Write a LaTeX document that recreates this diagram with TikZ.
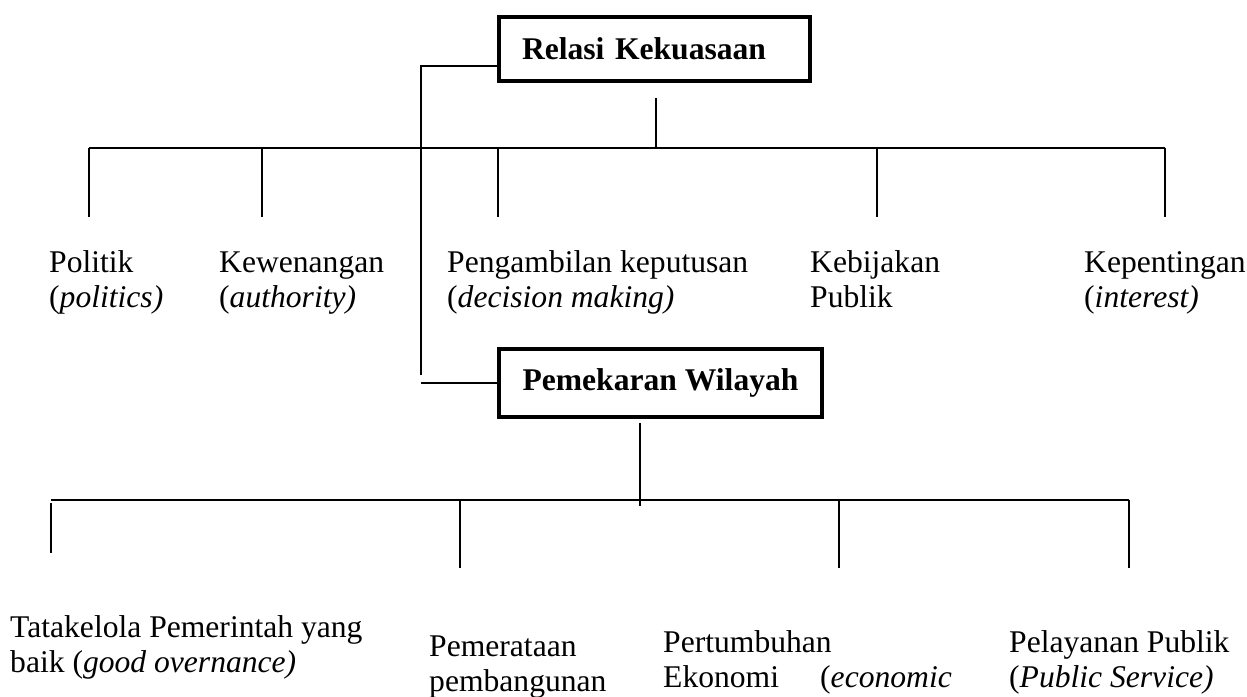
\documentclass[tikz,border=0pt]{standalone}
\usepackage{fontspec}
\setmainfont{Liberation Serif}
\begin{document}
\begin{tikzpicture}[x=1pt,y=-1pt,
  lbl/.style={anchor=base west, inner sep=0pt, align=left, font=\fontsize{31.6}{35}\selectfont},
  boxnode/.style={draw, line width=4pt, font=\fontsize{31.6}{35}\selectfont\bfseries, inner sep=0pt},
  ln/.style={line width=1.5pt},
  thickln/.style={line width=2.6pt}]
\useasboundingbox (0,0) rectangle (1247,696);
\clip (0,0) rectangle (1247,696);

% boxes
\node[boxnode, minimum width=311pt, minimum height=64pt, text width=265pt, align=left] (rk) at (654.5,49) {Relasi Kekuasaan};
\node[boxnode, minimum width=323pt, minimum height=68pt] (pw) at (660.5,383) {Pemekaran Wilayah};

% first row labels (anchored at the baseline of the last line)
\node[lbl] (politik) at (49,307) {Politik\\(\textit{politics)}};
\node[lbl] (wenang) at (219,307) {Kewenangan\\(\textit{authority)}};
\node[lbl] (ambil) at (447,307) {Pengambilan keputusan\\(\textit{decision making)}};
\node[lbl] (bijak) at (810,307) {Kebijakan\\Publik};
\node[lbl] (penting) at (1084,307) {Kepentingan\\(\textit{interest)}};

% second row labels
\node[lbl] (tata) at (10,672) {Tatakelola Pemerintah yang\\baik (\textit{good overnance)}};
\node[lbl] (merata) at (429,691) {Pemerataan\\pembangunan};
\node[lbl] (tumbuh) at (663,687) {Pertumbuhan\\\makebox[157pt][l]{Ekonomi}(\textit{economic}};
\node[lbl] (layan) at (1009,687) {Pelayanan Publik\\(\textit{Public Service)}};

% link between the two boxes
\coordinate (rkl) at (421,66);
\coordinate (vend) at (421,375);
\coordinate (pwl) at (421,383);
\draw[ln] (rkl -| rk.west) -- (rkl) -- (vend);
\draw[ln] (pwl) -- (pwl -| pw.west);

% upper tree
\coordinate (rks) at (656,98);
\coordinate (rkj) at (656,148);
\coordinate (tl) at (89,148);
\coordinate (tr) at (1165,148);
\draw[ln] (rks) -- (rkj);
\draw[ln] (tl) -- (tr);
\foreach \x/\n in {89/a,262/b,498/c,877/d,1165/e}{
  \coordinate (ut\n) at (\x,148);
  \coordinate (ub\n) at (\x,217);
  \draw[ln] (ut\n) -- (ub\n);
}

% lower tree
\coordinate (pws) at (640,423);
\coordinate (pwj) at (640,506);
\coordinate (bl) at (51,500);
\coordinate (br) at (1129,500);
\draw[ln] (pws) -- (pwj);
\draw[thickln] (bl) -- (br);
\coordinate (la) at (51,503);
\coordinate (lb) at (51,553);
\draw[ln] (la) -- (lb);
\foreach \x/\n in {460/b,839/c,1129/d}{
  \coordinate (lt\n) at (\x,500);
  \coordinate (lw\n) at (\x,568);
  \draw[ln] (lt\n) -- (lw\n);
}
\end{tikzpicture}
\end{document}
